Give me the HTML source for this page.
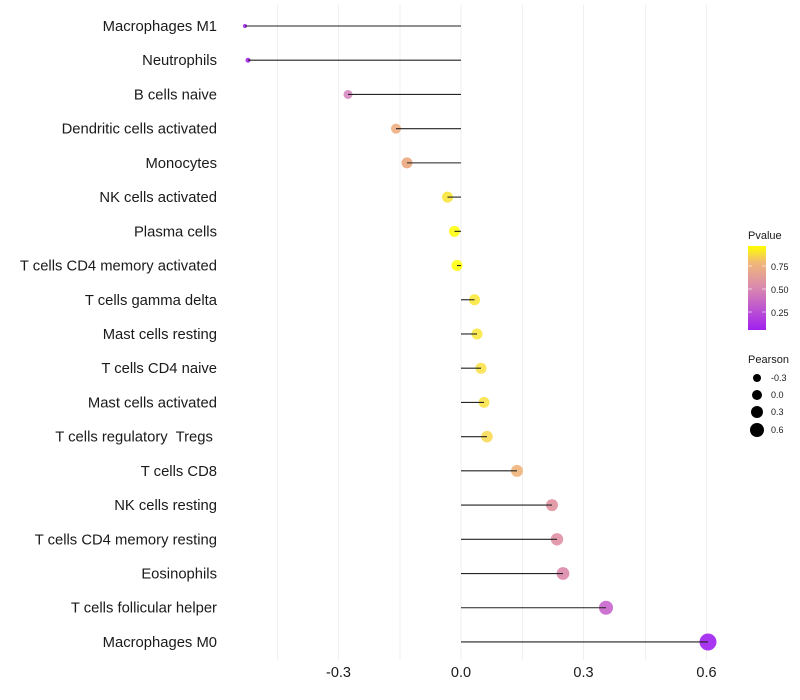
<!DOCTYPE html>
<html><head><meta charset="utf-8"><style>body{margin:0;background:#fff}svg{display:block}text{font-family:"Liberation Sans",sans-serif;white-space:pre}</style></head><body>
<svg width="800" height="700" viewBox="0 0 800 700">
<defs><linearGradient id="g" x1="0" y1="1" x2="0" y2="0"><stop offset="0" stop-color="#a020f0"/><stop offset="0.5" stop-color="#d988b0"/><stop offset="0.8" stop-color="#f0b878"/><stop offset="1" stop-color="#ffff00"/></linearGradient></defs>
<g stroke="#efefef" stroke-width="1">
<line x1="277.5" y1="5" x2="277.5" y2="660"/><line x1="338.5" y1="5" x2="338.5" y2="660"/><line x1="400" y1="5" x2="400" y2="660"/><line x1="461" y1="5" x2="461" y2="660"/><line x1="522.5" y1="5" x2="522.5" y2="660"/><line x1="583.5" y1="5" x2="583.5" y2="660"/><line x1="645.5" y1="5" x2="645.5" y2="660"/><line x1="706.5" y1="5" x2="706.5" y2="660"/>
</g>
<g id="pts"></g>
<g font-size="14.5" fill="#1a1a1a" text-anchor="middle">
<text x="338.5" y="677">-0.3</text><text x="461" y="677">0.0</text><text x="583.5" y="677">0.3</text><text x="706.5" y="677">0.6</text>
</g>
<text x="748" y="239" font-size="11" fill="#1a1a1a">Pvalue</text>
<rect x="748" y="246" width="18" height="84" fill="url(#g)"/>
<g stroke="#fff" stroke-opacity="0.6"><line x1="748" y1="266" x2="752" y2="266"/><line x1="762" y1="266" x2="766" y2="266"/><line x1="748" y1="289" x2="752" y2="289"/><line x1="762" y1="289" x2="766" y2="289"/><line x1="748" y1="312" x2="752" y2="312"/><line x1="762" y1="312" x2="766" y2="312"/></g>
<g font-size="9" fill="#1a1a1a"><text x="771" y="270">0.75</text><text x="771" y="293">0.50</text><text x="771" y="316">0.25</text></g>
<text x="748" y="363" font-size="11" fill="#1a1a1a">Pearson</text>
<g fill="#000"><circle cx="757" cy="378" r="4"/><circle cx="757" cy="395" r="5"/><circle cx="757" cy="412" r="6"/><circle cx="757" cy="430" r="7"/></g>
<g font-size="9" fill="#1a1a1a"><text x="771" y="381">-0.3</text><text x="771" y="398">0.0</text><text x="771" y="415">0.3</text><text x="771" y="433">0.6</text></g>
<g id="lab" font-size="14.8" fill="#1a1a1a" text-anchor="end"></g>
</svg>
<script>
var d=[["Macrophages M1",245,2,"#a020f0"],["Neutrophils",248,2.5,"#a325ee"],["B cells naive",348,4.5,"#d68ac0"],["Dendritic cells activated",396,5,"#eeae82"],["Monocytes",407,5.5,"#eaa87e"],["NK cells activated",447.5,5.5,"#f7e43a"],["Plasma cells",454.5,5.5,"#ffff10"],["T cells CD4 memory activated",457,5.5,"#ffff10"],["T cells gamma delta",474.5,5.5,"#fbe83c"],["Mast cells resting",477,5.5,"#fbe840"],["T cells CD4 naive",481,5.5,"#f9e24a"],["Mast cells activated",484,5.5,"#f9e24a"],["T cells regulatory  Tregs ",487,5.8,"#f8dc58"],["T cells CD8",517,6,"#f0b47a"],["NK cells resting",552,6,"#e0929e"],["T cells CD4 memory resting",557,6.2,"#e090a4"],["Eosinophils",563,6.4,"#dc8aaa"],["T cells follicular helper",606,7,"#c864cc"],["Macrophages M0",708,8.5,"#a020f0"]];
var ns="http://www.w3.org/2000/svg",p=document.getElementById("pts"),l=document.getElementById("lab");
d.forEach(function(r,i){var y=26+i*34.22;
var c=document.createElementNS(ns,"circle");c.setAttribute("cx",r[1]);c.setAttribute("cy",y);c.setAttribute("r",r[2]);c.setAttribute("fill",r[3]);c.setAttribute("fill-opacity","0.9");p.appendChild(c);
var ln=document.createElementNS(ns,"line");ln.setAttribute("x1",461);ln.setAttribute("x2",r[1]);ln.setAttribute("y1",y);ln.setAttribute("y2",y);ln.setAttribute("stroke","#222");ln.setAttribute("stroke-width","1.1");p.appendChild(ln);
var t=document.createElementNS(ns,"text");t.setAttribute("x",217);t.setAttribute("y",y+5);t.textContent=r[0];l.appendChild(t);});
</script>
</body></html>
